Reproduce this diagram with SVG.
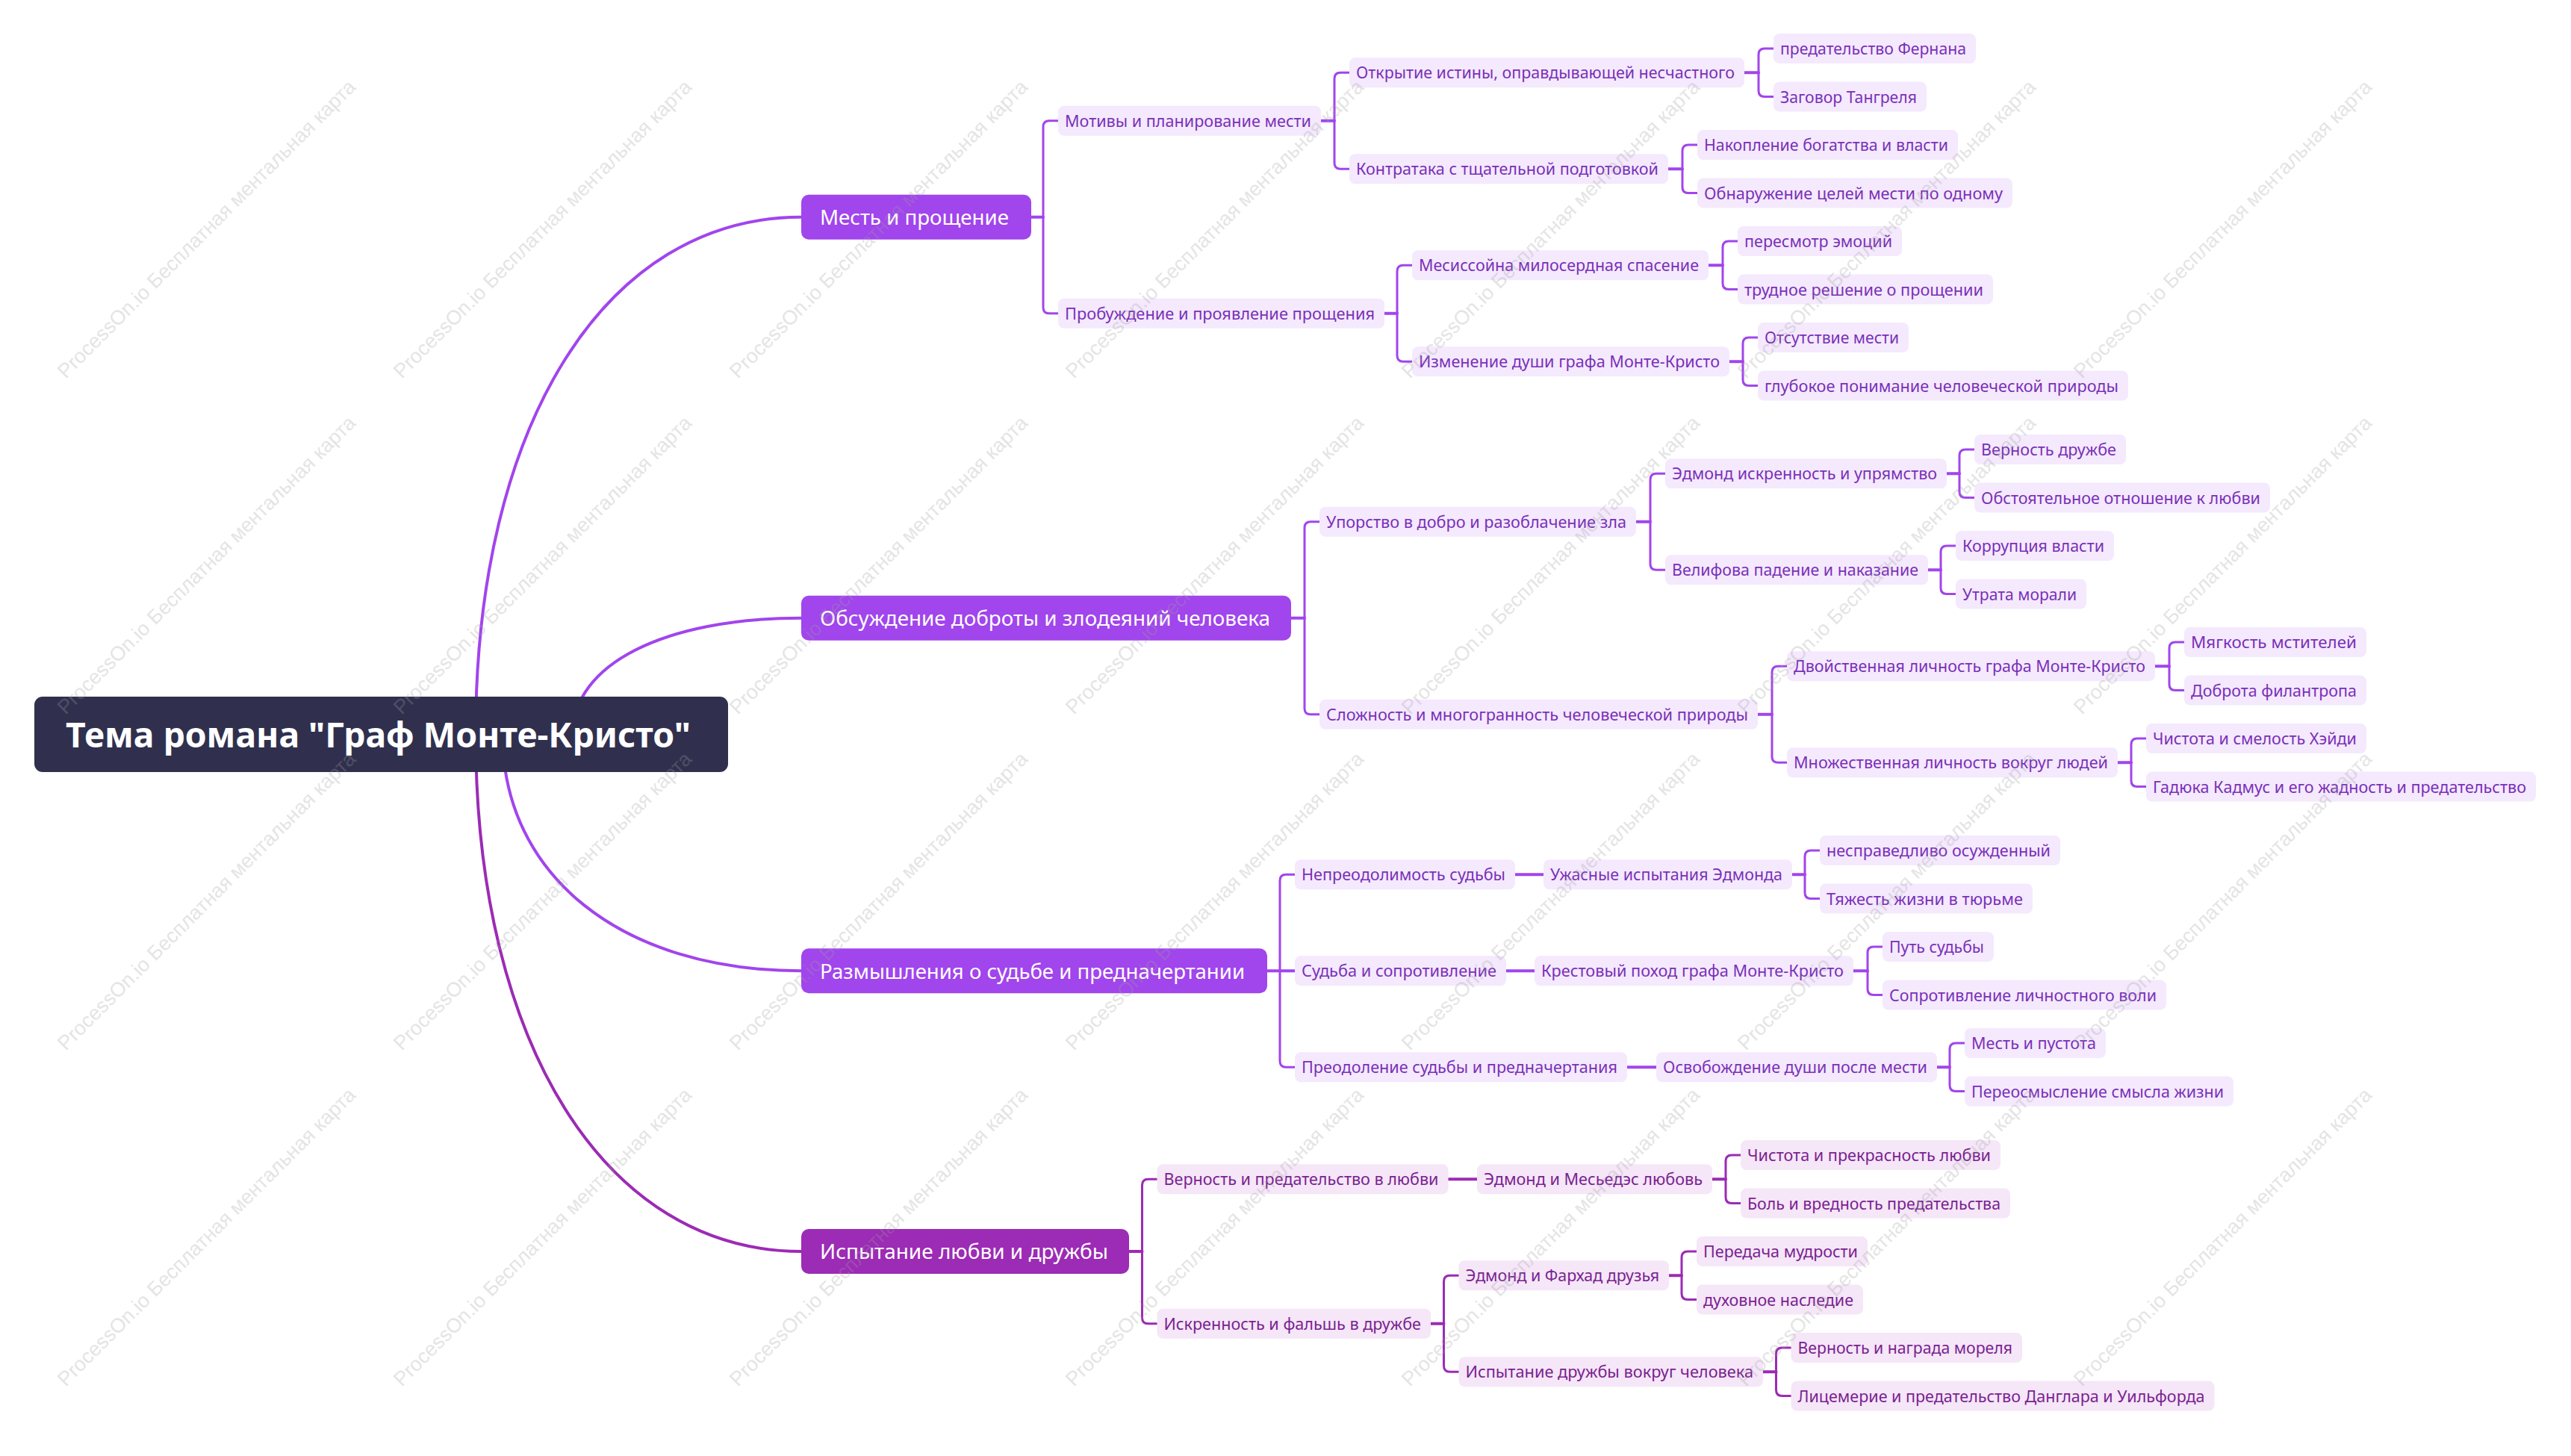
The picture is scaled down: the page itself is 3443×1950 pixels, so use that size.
<svg xmlns="http://www.w3.org/2000/svg" width="3443" height="1950" viewBox="0 0 3443 1950">
<style>
text{font-family:"Noto Sans","Open Sans","DejaVu Sans",sans-serif}
.root rect{fill:#30304e}
.root text{fill:#ffffff;font-size:47px;font-weight:700}
.l1 text{fill:#ffffff;font-size:28px}
.l1v rect{fill:#a145ec}
.l1m rect{fill:#9c2bb5}
.n text{font-size:22px}
.nv rect{fill:#f4e9fd}
.nv text{fill:#7a30b8}
.nm rect{fill:#f5e6f8}
.nm text{fill:#7a2290}
.c path{fill:none;stroke-linecap:round}
.cv{stroke:#a145ec}
.cm{stroke:#9c2bb5}
.crv{stroke-width:4}
.stub{stroke-width:4}
.bus{stroke-width:3}
#watermark text{font-family:"Liberation Sans",Arial,sans-serif;font-size:27px;fill:#a0a0a0;opacity:0.28}
</style>
<rect width="3443" height="1950" fill="#ffffff"/>
<g id="connectors" class="c">
<path class="cv crv" d="M637 983 C637 568 811 290.75 1073 290.75"/>
<path class="cv crv" d="M767 983 C767 890 889 827.75 1073 827.75"/>
<path class="cv crv" d="M673 983 C673 1173 833 1300.25 1073 1300.25"/>
<path class="cm crv" d="M637 983 C637 1398 811 1676 1073 1676"/>
<path class="cv stub" d="M1381 290.75H1397"/>
<path class="cv bus" d="M1397 290.75V169.75Q1397 161.75 1405 161.75H1417M1397 290.75V411.75Q1397 419.75 1405 419.75H1417"/>
<path class="cv stub" d="M1769 161.75H1787"/>
<path class="cv bus" d="M1787 161.75V105.25Q1787 97.25 1795 97.25H1807M1787 161.75V218.25Q1787 226.25 1795 226.25H1807"/>
<path class="cv stub" d="M2336 97.25H2355"/>
<path class="cv bus" d="M2355 97.25V73Q2355 65 2363 65H2375M2355 97.25V121.5Q2355 129.5 2363 129.5H2375"/>
<path class="cv stub" d="M2234 226.25H2253"/>
<path class="cv bus" d="M2253 226.25V202Q2253 194 2261 194H2273M2253 226.25V250.5Q2253 258.5 2261 258.5H2273"/>
<path class="cv stub" d="M1854 419.75H1871"/>
<path class="cv bus" d="M1871 419.75V363.25Q1871 355.25 1879 355.25H1891M1871 419.75V476.25Q1871 484.25 1879 484.25H1891"/>
<path class="cv stub" d="M2288 355.25H2307"/>
<path class="cv bus" d="M2307 355.25V331Q2307 323 2315 323H2327M2307 355.25V379.5Q2307 387.5 2315 387.5H2327"/>
<path class="cv stub" d="M2316 484.25H2334"/>
<path class="cv bus" d="M2334 484.25V460Q2334 452 2342 452H2354M2334 484.25V508.5Q2334 516.5 2342 516.5H2354"/>
<path class="cv stub" d="M1729 827.75H1747"/>
<path class="cv bus" d="M1747 827.75V706.75Q1747 698.75 1755 698.75H1767M1747 827.75V948.75Q1747 956.75 1755 956.75H1767"/>
<path class="cv stub" d="M2191 698.75H2210"/>
<path class="cv bus" d="M2210 698.75V642.25Q2210 634.25 2218 634.25H2230M2210 698.75V755.25Q2210 763.25 2218 763.25H2230"/>
<path class="cv stub" d="M2607 634.25H2624"/>
<path class="cv bus" d="M2624 634.25V610Q2624 602 2632 602H2644M2624 634.25V658.5Q2624 666.5 2632 666.5H2644"/>
<path class="cv stub" d="M2582 763.25H2599"/>
<path class="cv bus" d="M2599 763.25V739Q2599 731 2607 731H2619M2599 763.25V787.5Q2599 795.5 2607 795.5H2619"/>
<path class="cv stub" d="M2354 956.75H2373"/>
<path class="cv bus" d="M2373 956.75V900.25Q2373 892.25 2381 892.25H2393M2373 956.75V1013.25Q2373 1021.25 2381 1021.25H2393"/>
<path class="cv stub" d="M2886 892.25H2905"/>
<path class="cv bus" d="M2905 892.25V868Q2905 860 2913 860H2925M2905 892.25V916.5Q2905 924.5 2913 924.5H2925"/>
<path class="cv stub" d="M2836 1021.25H2854"/>
<path class="cv bus" d="M2854 1021.25V997Q2854 989 2862 989H2874M2854 1021.25V1045.5Q2854 1053.5 2862 1053.5H2874"/>
<path class="cv stub" d="M1697 1300.25H1734"/>
<path class="cv bus" d="M1714 1300.25V1179.25Q1714 1171.25 1722 1171.25H1734M1714 1300.25V1421.25Q1714 1429.25 1722 1429.25H1734"/>
<path class="cv stub" d="M2029 1171.25H2067"/>
<path class="cv stub" d="M2400 1171.25H2417"/>
<path class="cv bus" d="M2417 1171.25V1147Q2417 1139 2425 1139H2437M2417 1171.25V1195.5Q2417 1203.5 2425 1203.5H2437"/>
<path class="cv stub" d="M2017 1300.25H2055"/>
<path class="cv stub" d="M2482 1300.25H2501"/>
<path class="cv bus" d="M2501 1300.25V1276Q2501 1268 2509 1268H2521M2501 1300.25V1324.5Q2501 1332.5 2509 1332.5H2521"/>
<path class="cv stub" d="M2179 1429.25H2218"/>
<path class="cv stub" d="M2594 1429.25H2611"/>
<path class="cv bus" d="M2611 1429.25V1405Q2611 1397 2619 1397H2631M2611 1429.25V1453.5Q2611 1461.5 2619 1461.5H2631"/>
<path class="cm stub" d="M1512 1676H1529.5"/>
<path class="cm bus" d="M1529.5 1676V1587.25Q1529.5 1579.25 1537.5 1579.25H1549.5M1529.5 1676V1764.75Q1529.5 1772.75 1537.5 1772.75H1549.5"/>
<path class="cm stub" d="M1939.5 1579.25H1978"/>
<path class="cm stub" d="M2293 1579.25H2311"/>
<path class="cm bus" d="M2311 1579.25V1555Q2311 1547 2319 1547H2331M2311 1579.25V1603.5Q2311 1611.5 2319 1611.5H2331"/>
<path class="cm stub" d="M1916 1772.75H1933.5"/>
<path class="cm bus" d="M1933.5 1772.75V1716.25Q1933.5 1708.25 1941.5 1708.25H1953.5M1933.5 1772.75V1829.25Q1933.5 1837.25 1941.5 1837.25H1953.5"/>
<path class="cm stub" d="M2235 1708.25H2252"/>
<path class="cm bus" d="M2252 1708.25V1684Q2252 1676 2260 1676H2272M2252 1708.25V1732.5Q2252 1740.5 2260 1740.5H2272"/>
<path class="cm stub" d="M2361 1837.25H2378.5"/>
<path class="cm bus" d="M2378.5 1837.25V1813Q2378.5 1805 2386.5 1805H2398.5M2378.5 1837.25V1861.5Q2378.5 1869.5 2386.5 1869.5H2398.5"/>
</g>
<g id="root" class="root"><rect x="46" y="933" width="929" height="101" rx="11"/><text x="88" y="1001" textLength="837" lengthAdjust="spacingAndGlyphs">Тема романа "Граф Монте-Кристо"</text></g>
<g id="b1" class="l1 l1v"><rect x="1073" y="260.75" width="308" height="60" rx="10"/><text x="1098" y="301" textLength="253" lengthAdjust="spacingAndGlyphs">Месть и прощение</text></g>
<g id="b2" class="l1 l1v"><rect x="1073" y="797.75" width="656" height="60" rx="10"/><text x="1098" y="838" textLength="603" lengthAdjust="spacingAndGlyphs">Обсуждение доброты и злодеяний человека</text></g>
<g id="b3" class="l1 l1v"><rect x="1073" y="1270.25" width="624" height="60" rx="10"/><text x="1098" y="1310.5" textLength="569" lengthAdjust="spacingAndGlyphs">Размышления о судьбе и предначертании</text></g>
<g id="b4" class="l1 l1m"><rect x="1073" y="1646" width="439" height="60" rx="10"/><text x="1098" y="1686" textLength="386" lengthAdjust="spacingAndGlyphs">Испытание любви и дружбы</text></g>

<g id="n11" class="n nv"><rect x="1417" y="141.75" width="352" height="40" rx="8"/><text x="1426" y="169.75" textLength="330" lengthAdjust="spacingAndGlyphs">Мотивы и планирование мести</text></g>
<g id="n111" class="n nv"><rect x="1807" y="77.25" width="529" height="40" rx="8"/><text x="1816" y="105.25" textLength="507" lengthAdjust="spacingAndGlyphs">Открытие истины, оправдывающей несчастного</text></g>
<g id="n1111" class="n nv"><rect x="2375" y="45" width="271" height="40" rx="8"/><text x="2384" y="73" textLength="249" lengthAdjust="spacingAndGlyphs">предательство Фернана</text></g>
<g id="n1112" class="n nv"><rect x="2375" y="109.5" width="205" height="40" rx="8"/><text x="2384" y="137.5" textLength="183" lengthAdjust="spacingAndGlyphs">Заговор Тангреля</text></g>
<g id="n112" class="n nv"><rect x="1807" y="206.25" width="427" height="40" rx="8"/><text x="1816" y="234.25" textLength="405" lengthAdjust="spacingAndGlyphs">Контратака с тщательной подготовкой</text></g>
<g id="n1121" class="n nv"><rect x="2273" y="174" width="349" height="40" rx="8"/><text x="2282" y="202" textLength="327" lengthAdjust="spacingAndGlyphs">Накопление богатства и власти</text></g>
<g id="n1122" class="n nv"><rect x="2273" y="238.5" width="422" height="40" rx="8"/><text x="2282" y="266.5" textLength="400" lengthAdjust="spacingAndGlyphs">Обнаружение целей мести по одному</text></g>
<g id="n12" class="n nv"><rect x="1417" y="399.75" width="437" height="40" rx="8"/><text x="1426" y="427.75" textLength="415" lengthAdjust="spacingAndGlyphs">Пробуждение и проявление прощения</text></g>
<g id="n121" class="n nv"><rect x="1891" y="335.25" width="397" height="40" rx="8"/><text x="1900" y="363.25" textLength="375" lengthAdjust="spacingAndGlyphs">Месиссойна милосердная спасение</text></g>
<g id="n1211" class="n nv"><rect x="2327" y="303" width="220" height="40" rx="8"/><text x="2336" y="331" textLength="198" lengthAdjust="spacingAndGlyphs">пересмотр эмоций</text></g>
<g id="n1212" class="n nv"><rect x="2327" y="367.5" width="342" height="40" rx="8"/><text x="2336" y="395.5" textLength="320" lengthAdjust="spacingAndGlyphs">трудное решение о прощении</text></g>
<g id="n122" class="n nv"><rect x="1891" y="464.25" width="425" height="40" rx="8"/><text x="1900" y="492.25" textLength="403" lengthAdjust="spacingAndGlyphs">Изменение души графа Монте-Кристо</text></g>
<g id="n1221" class="n nv"><rect x="2354" y="432" width="202" height="40" rx="8"/><text x="2363" y="460" textLength="180" lengthAdjust="spacingAndGlyphs">Отсутствие мести</text></g>
<g id="n1222" class="n nv"><rect x="2354" y="496.5" width="496" height="40" rx="8"/><text x="2363" y="524.5" textLength="474" lengthAdjust="spacingAndGlyphs">глубокое понимание человеческой природы</text></g>

<g id="n21" class="n nv"><rect x="1767" y="678.75" width="424" height="40" rx="8"/><text x="1776" y="706.75" textLength="402" lengthAdjust="spacingAndGlyphs">Упорство в добро и разоблачение зла</text></g>
<g id="n211" class="n nv"><rect x="2230" y="614.25" width="377" height="40" rx="8"/><text x="2239" y="642.25" textLength="355" lengthAdjust="spacingAndGlyphs">Эдмонд искренность и упрямство</text></g>
<g id="n2111" class="n nv"><rect x="2644" y="582" width="203" height="40" rx="8"/><text x="2653" y="610" textLength="181" lengthAdjust="spacingAndGlyphs">Верность дружбе</text></g>
<g id="n2112" class="n nv"><rect x="2644" y="646.5" width="396" height="40" rx="8"/><text x="2653" y="674.5" textLength="374" lengthAdjust="spacingAndGlyphs">Обстоятельное отношение к любви</text></g>
<g id="n212" class="n nv"><rect x="2230" y="743.25" width="352" height="40" rx="8"/><text x="2239" y="771.25" textLength="330" lengthAdjust="spacingAndGlyphs">Велифова падение и наказание</text></g>
<g id="n2121" class="n nv"><rect x="2619" y="711" width="212" height="40" rx="8"/><text x="2628" y="739" textLength="190" lengthAdjust="spacingAndGlyphs">Коррупция власти</text></g>
<g id="n2122" class="n nv"><rect x="2619" y="775.5" width="175" height="40" rx="8"/><text x="2628" y="803.5" textLength="153" lengthAdjust="spacingAndGlyphs">Утрата морали</text></g>
<g id="n22" class="n nv"><rect x="1767" y="936.75" width="587" height="40" rx="8"/><text x="1776" y="964.75" textLength="565" lengthAdjust="spacingAndGlyphs">Сложность и многогранность человеческой природы</text></g>
<g id="n221" class="n nv"><rect x="2393" y="872.25" width="493" height="40" rx="8"/><text x="2402" y="900.25" textLength="471" lengthAdjust="spacingAndGlyphs">Двойственная личность графа Монте-Кристо</text></g>
<g id="n2211" class="n nv"><rect x="2925" y="840" width="244" height="40" rx="8"/><text x="2934" y="868" textLength="222" lengthAdjust="spacingAndGlyphs">Мягкость мстителей</text></g>
<g id="n2212" class="n nv"><rect x="2925" y="904.5" width="244" height="40" rx="8"/><text x="2934" y="932.5" textLength="222" lengthAdjust="spacingAndGlyphs">Доброта филантропа</text></g>
<g id="n222" class="n nv"><rect x="2393" y="1001.25" width="443" height="40" rx="8"/><text x="2402" y="1029.25" textLength="421" lengthAdjust="spacingAndGlyphs">Множественная личность вокруг людей</text></g>
<g id="n2221" class="n nv"><rect x="2874" y="969" width="295" height="40" rx="8"/><text x="2883" y="997" textLength="273" lengthAdjust="spacingAndGlyphs">Чистота и смелость Хэйди</text></g>
<g id="n2222" class="n nv"><rect x="2874" y="1033.5" width="522" height="40" rx="8"/><text x="2883" y="1061.5" textLength="500" lengthAdjust="spacingAndGlyphs">Гадюка Кадмус и его жадность и предательство</text></g>

<g id="n31" class="n nv"><rect x="1734" y="1151.25" width="295" height="40" rx="8"/><text x="1743" y="1179.25" textLength="273" lengthAdjust="spacingAndGlyphs">Непреодолимость судьбы</text></g>
<g id="n311" class="n nv"><rect x="2067" y="1151.25" width="333" height="40" rx="8"/><text x="2076" y="1179.25" textLength="311" lengthAdjust="spacingAndGlyphs">Ужасные испытания Эдмонда</text></g>
<g id="n3111" class="n nv"><rect x="2437" y="1119" width="322" height="40" rx="8"/><text x="2446" y="1147" textLength="300" lengthAdjust="spacingAndGlyphs">несправедливо осужденный</text></g>
<g id="n3112" class="n nv"><rect x="2437" y="1183.5" width="285" height="40" rx="8"/><text x="2446" y="1211.5" textLength="263" lengthAdjust="spacingAndGlyphs">Тяжесть жизни в тюрьме</text></g>
<g id="n32" class="n nv"><rect x="1734" y="1280.25" width="283" height="40" rx="8"/><text x="1743" y="1308.25" textLength="261" lengthAdjust="spacingAndGlyphs">Судьба и сопротивление</text></g>
<g id="n321" class="n nv"><rect x="2055" y="1280.25" width="427" height="40" rx="8"/><text x="2064" y="1308.25" textLength="405" lengthAdjust="spacingAndGlyphs">Крестовый поход графа Монте-Кристо</text></g>
<g id="n3211" class="n nv"><rect x="2521" y="1248" width="149" height="40" rx="8"/><text x="2530" y="1276" textLength="127" lengthAdjust="spacingAndGlyphs">Путь судьбы</text></g>
<g id="n3212" class="n nv"><rect x="2521" y="1312.5" width="380" height="40" rx="8"/><text x="2530" y="1340.5" textLength="358" lengthAdjust="spacingAndGlyphs">Сопротивление личностного воли</text></g>
<g id="n33" class="n nv"><rect x="1734" y="1409.25" width="445" height="40" rx="8"/><text x="1743" y="1437.25" textLength="423" lengthAdjust="spacingAndGlyphs">Преодоление судьбы и предначертания</text></g>
<g id="n331" class="n nv"><rect x="2218" y="1409.25" width="376" height="40" rx="8"/><text x="2227" y="1437.25" textLength="354" lengthAdjust="spacingAndGlyphs">Освобождение души после мести</text></g>
<g id="n3311" class="n nv"><rect x="2631" y="1377" width="189" height="40" rx="8"/><text x="2640" y="1405" textLength="167" lengthAdjust="spacingAndGlyphs">Месть и пустота</text></g>
<g id="n3312" class="n nv"><rect x="2631" y="1441.5" width="360" height="40" rx="8"/><text x="2640" y="1469.5" textLength="338" lengthAdjust="spacingAndGlyphs">Переосмысление смысла жизни</text></g>

<g id="n41" class="n nm"><rect x="1549.5" y="1559.25" width="390" height="40" rx="8"/><text x="1558.5" y="1587.25" textLength="368" lengthAdjust="spacingAndGlyphs">Верность и предательство в любви</text></g>
<g id="n411" class="n nm"><rect x="1978" y="1559.25" width="315" height="40" rx="8"/><text x="1987" y="1587.25" textLength="293" lengthAdjust="spacingAndGlyphs">Эдмонд и Месьедэс любовь</text></g>
<g id="n4111" class="n nm"><rect x="2331" y="1527" width="348" height="40" rx="8"/><text x="2340" y="1555" textLength="326" lengthAdjust="spacingAndGlyphs">Чистота и прекрасность любви</text></g>
<g id="n4112" class="n nm"><rect x="2331" y="1591.5" width="361" height="40" rx="8"/><text x="2340" y="1619.5" textLength="339" lengthAdjust="spacingAndGlyphs">Боль и вредность предательства</text></g>
<g id="n42" class="n nm"><rect x="1549.5" y="1752.75" width="366.5" height="40" rx="8"/><text x="1558.5" y="1780.75" textLength="344.5" lengthAdjust="spacingAndGlyphs">Искренность и фальшь в дружбе</text></g>
<g id="n421" class="n nm"><rect x="1953.5" y="1688.25" width="281.5" height="40" rx="8"/><text x="1962.5" y="1716.25" textLength="259.5" lengthAdjust="spacingAndGlyphs">Эдмонд и Фархад друзья</text></g>
<g id="n4211" class="n nm"><rect x="2272" y="1656" width="229" height="40" rx="8"/><text x="2281" y="1684" textLength="207" lengthAdjust="spacingAndGlyphs">Передача мудрости</text></g>
<g id="n4212" class="n nm"><rect x="2272" y="1720.5" width="223" height="40" rx="8"/><text x="2281" y="1748.5" textLength="201" lengthAdjust="spacingAndGlyphs">духовное наследие</text></g>
<g id="n422" class="n nm"><rect x="1953.5" y="1817.25" width="407.5" height="40" rx="8"/><text x="1962.5" y="1845.25" textLength="385.5" lengthAdjust="spacingAndGlyphs">Испытание дружбы вокруг человека</text></g>
<g id="n4221" class="n nm"><rect x="2398.5" y="1785" width="309.5" height="40" rx="8"/><text x="2407.5" y="1813" textLength="287.5" lengthAdjust="spacingAndGlyphs">Верность и награда мореля</text></g>
<g id="n4222" class="n nm"><rect x="2398.5" y="1849.5" width="567" height="40" rx="8"/><text x="2407.5" y="1877.5" textLength="545" lengthAdjust="spacingAndGlyphs">Лицемерие и предательство Данглара и Уильфорда</text></g>

<g id="watermark">
<text transform="translate(88 508) rotate(-45)">ProcessOn.io Бесплатная ментальная карта</text>
<text transform="translate(88 958) rotate(-45)">ProcessOn.io Бесплатная ментальная карта</text>
<text transform="translate(88 1408) rotate(-45)">ProcessOn.io Бесплатная ментальная карта</text>
<text transform="translate(88 1858) rotate(-45)">ProcessOn.io Бесплатная ментальная карта</text>
<text transform="translate(538 508) rotate(-45)">ProcessOn.io Бесплатная ментальная карта</text>
<text transform="translate(538 958) rotate(-45)">ProcessOn.io Бесплатная ментальная карта</text>
<text transform="translate(538 1408) rotate(-45)">ProcessOn.io Бесплатная ментальная карта</text>
<text transform="translate(538 1858) rotate(-45)">ProcessOn.io Бесплатная ментальная карта</text>
<text transform="translate(988 508) rotate(-45)">ProcessOn.io Бесплатная ментальная карта</text>
<text transform="translate(988 958) rotate(-45)">ProcessOn.io Бесплатная ментальная карта</text>
<text transform="translate(988 1408) rotate(-45)">ProcessOn.io Бесплатная ментальная карта</text>
<text transform="translate(988 1858) rotate(-45)">ProcessOn.io Бесплатная ментальная карта</text>
<text transform="translate(1438 508) rotate(-45)">ProcessOn.io Бесплатная ментальная карта</text>
<text transform="translate(1438 958) rotate(-45)">ProcessOn.io Бесплатная ментальная карта</text>
<text transform="translate(1438 1408) rotate(-45)">ProcessOn.io Бесплатная ментальная карта</text>
<text transform="translate(1438 1858) rotate(-45)">ProcessOn.io Бесплатная ментальная карта</text>
<text transform="translate(1888 508) rotate(-45)">ProcessOn.io Бесплатная ментальная карта</text>
<text transform="translate(1888 958) rotate(-45)">ProcessOn.io Бесплатная ментальная карта</text>
<text transform="translate(1888 1408) rotate(-45)">ProcessOn.io Бесплатная ментальная карта</text>
<text transform="translate(1888 1858) rotate(-45)">ProcessOn.io Бесплатная ментальная карта</text>
<text transform="translate(2338 508) rotate(-45)">ProcessOn.io Бесплатная ментальная карта</text>
<text transform="translate(2338 958) rotate(-45)">ProcessOn.io Бесплатная ментальная карта</text>
<text transform="translate(2338 1408) rotate(-45)">ProcessOn.io Бесплатная ментальная карта</text>
<text transform="translate(2338 1858) rotate(-45)">ProcessOn.io Бесплатная ментальная карта</text>
<text transform="translate(2788 508) rotate(-45)">ProcessOn.io Бесплатная ментальная карта</text>
<text transform="translate(2788 958) rotate(-45)">ProcessOn.io Бесплатная ментальная карта</text>
<text transform="translate(2788 1408) rotate(-45)">ProcessOn.io Бесплатная ментальная карта</text>
<text transform="translate(2788 1858) rotate(-45)">ProcessOn.io Бесплатная ментальная карта</text>
</g>
</svg>
